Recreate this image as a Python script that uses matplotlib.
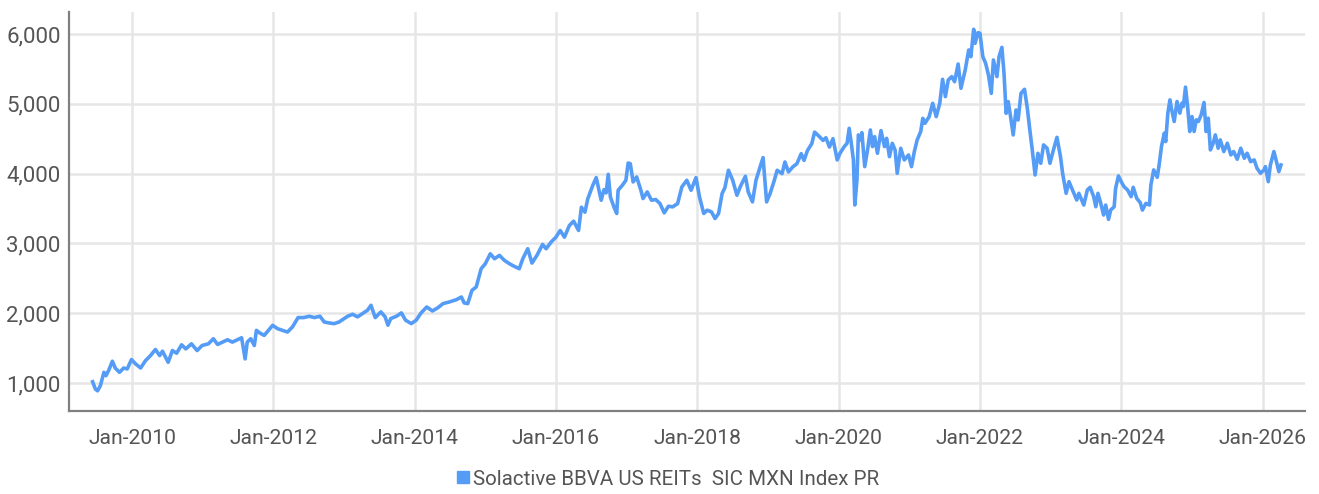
import pandas as pd
import matplotlib
matplotlib.use("Agg")
import matplotlib.pyplot as plt
from matplotlib.lines import Line2D
from matplotlib import font_manager

# index level, dates as decimal years
years = [
    2009.44, 2009.48, 2009.51, 2009.55, 2009.60, 2009.63, 2009.67, 2009.72, 2009.76, 2009.82,
    2009.88, 2009.93, 2009.99, 2010.05, 2010.12, 2010.19, 2010.26, 2010.33, 2010.39, 2010.43,
    2010.51, 2010.57, 2010.63, 2010.70, 2010.76, 2010.84, 2010.92, 2010.99, 2011.08, 2011.15,
    2011.21, 2011.28, 2011.35, 2011.42, 2011.49, 2011.55, 2011.60, 2011.63, 2011.68, 2011.73,
    2011.76, 2011.81, 2011.87, 2011.91, 2011.99, 2012.06, 2012.13, 2012.20, 2012.27, 2012.35,
    2012.43, 2012.51, 2012.58, 2012.66, 2012.72, 2012.79, 2012.86, 2012.93, 2012.98,
    2013.05, 2013.12, 2013.19, 2013.26, 2013.33, 2013.38, 2013.44, 2013.52, 2013.58, 2013.62,
    2013.66, 2013.74, 2013.81, 2013.87, 2013.95, 2014.02, 2014.09, 2014.17, 2014.25, 2014.33,
    2014.40, 2014.49, 2014.59, 2014.66, 2014.70, 2014.75, 2014.81, 2014.87, 2014.94, 2015.00,
    2015.07, 2015.13, 2015.20, 2015.27, 2015.34, 2015.41, 2015.48, 2015.53, 2015.60, 2015.66,
    2015.73, 2015.81, 2015.86, 2015.93, 2016.00, 2016.06, 2016.12, 2016.19, 2016.25, 2016.32,
    2016.36, 2016.41, 2016.45, 2016.52,
    2016.57, 2016.61, 2016.64, 2016.68, 2016.71, 2016.74, 2016.77, 2016.82, 2016.86, 2016.88,
    2016.94, 2016.99, 2017.02, 2017.05, 2017.09, 2017.14, 2017.20, 2017.23, 2017.29, 2017.35,
    2017.41, 2017.47, 2017.53, 2017.59, 2017.65, 2017.72, 2017.78, 2017.85, 2017.91, 2017.98,
    2018.03, 2018.09, 2018.14, 2018.20, 2018.25, 2018.30, 2018.35, 2018.39, 2018.44, 2018.50,
    2018.56, 2018.61, 2018.68, 2018.72, 2018.78, 2018.83, 2018.88, 2018.93, 2018.98, 2019.03,
    2019.09, 2019.13, 2019.20, 2019.24, 2019.29, 2019.35, 2019.41, 2019.47, 2019.51, 2019.56,
    2019.62, 2019.66, 2019.71, 2019.78, 2019.82, 2019.87, 2019.92,
    2019.98, 2020.02, 2020.08, 2020.12, 2020.15, 2020.18, 2020.21, 2020.23, 2020.26, 2020.28,
    2020.31, 2020.33, 2020.37, 2020.41, 2020.45, 2020.48, 2020.51, 2020.55, 2020.60, 2020.65,
    2020.68, 2020.72, 2020.76, 2020.80, 2020.83, 2020.88, 2020.93, 2020.99, 2021.03, 2021.07,
    2021.11, 2021.16, 2021.19, 2021.22, 2021.28, 2021.33, 2021.38, 2021.43, 2021.47, 2021.51,
    2021.55, 2021.60, 2021.64, 2021.69, 2021.73, 2021.79, 2021.84, 2021.87, 2021.91, 2021.93,
    2021.97, 2022.00, 2022.04, 2022.08, 2022.12, 2022.16, 2022.19, 2022.24, 2022.27, 2022.31,
    2022.34, 2022.37, 2022.40, 2022.44, 2022.47, 2022.51, 2022.54, 2022.58, 2022.63, 2022.67,
    2022.70, 2022.74, 2022.78, 2022.82, 2022.86, 2022.90, 2022.95, 2022.99, 2023.04, 2023.09,
    2023.14, 2023.17, 2023.22, 2023.26, 2023.31,
    2023.37, 2023.40, 2023.43, 2023.47, 2023.52, 2023.56, 2023.61, 2023.64, 2023.67, 2023.71,
    2023.75, 2023.78, 2023.82, 2023.85, 2023.90, 2023.92, 2023.96, 2024.00, 2024.04, 2024.09,
    2024.14, 2024.17, 2024.22, 2024.27, 2024.30, 2024.35, 2024.40, 2024.42, 2024.46, 2024.51,
    2024.54, 2024.57, 2024.61, 2024.63, 2024.66, 2024.69, 2024.71, 2024.75, 2024.79, 2024.83,
    2024.86, 2024.88, 2024.91, 2024.94, 2024.97, 2025.00, 2025.03, 2025.06, 2025.09, 2025.13,
    2025.17, 2025.20, 2025.23, 2025.26, 2025.30, 2025.33, 2025.37, 2025.40, 2025.45, 2025.50,
    2025.55, 2025.59, 2025.64, 2025.69, 2025.74, 2025.78, 2025.83, 2025.88, 2025.92, 2025.97,
    2026.02, 2026.04, 2026.08, 2026.11, 2026.16, 2026.19, 2026.23, 2026.26,
]
values = [
    1019, 913, 889, 962, 1154, 1106, 1188, 1313, 1216, 1154,
    1216, 1202, 1337, 1274, 1216, 1322, 1394, 1481, 1394, 1457,
    1298, 1466, 1428, 1548, 1490, 1562, 1466, 1538, 1562, 1635,
    1553, 1587, 1620, 1587, 1620, 1649, 1346, 1587, 1635, 1538,
    1755, 1716, 1683, 1731, 1827, 1779, 1755, 1731, 1803, 1938,
    1938, 1957, 1938, 1957, 1875, 1861, 1851, 1875, 1909,
    1957, 1986, 1948, 1995, 2043, 2114, 1938, 2019, 1948, 1829,
    1924, 1957, 2005, 1900, 1852, 1900, 2005, 2090, 2033, 2081,
    2138, 2162, 2195, 2233, 2148, 2138, 2329, 2376, 2638, 2710,
    2852, 2781, 2829, 2757, 2710, 2671, 2638, 2781, 2924, 2719,
    2829, 2986, 2924, 3019, 3090, 3186, 3090, 3257, 3319, 3186,
    3519, 3448, 3638, 3829,
    3943, 3762, 3619, 3771, 3724, 3990, 3667, 3524, 3429, 3762,
    3833, 3905, 4152, 4143, 3881, 3952, 3762, 3643, 3738, 3619,
    3629, 3571, 3438, 3533, 3524, 3571, 3810, 3905, 3762, 3943,
    3667, 3429, 3476, 3452, 3357, 3429, 3714, 3800, 4048, 3905,
    3690, 3819, 3962, 3738, 3595, 3905, 4071, 4229, 3595, 3714,
    3905, 4048, 4000, 4167, 4024, 4095, 4143, 4286, 4190, 4333,
    4429, 4595, 4548, 4476, 4514, 4381, 4500,
    4196, 4291, 4387, 4434, 4649, 4434, 4196, 3551, 3909, 4554,
    4482, 4587, 4100, 4339, 4625, 4387, 4530, 4291, 4616, 4387,
    4506, 4243, 4434, 4339, 4005, 4363, 4196, 4267, 4100, 4315,
    4482, 4601, 4792, 4721, 4816, 5007, 4816, 5007, 5351, 5103,
    5341, 5389, 5317, 5570, 5222, 5484, 5771, 5675, 6067, 5866,
    6019, 6010, 5675, 5580, 5413, 5150, 5628, 5389, 5675, 5809,
    5437, 4864, 5031, 4768, 4554, 4912, 4768, 5150, 5208, 4936,
    4673, 4339, 3981, 4291, 4148, 4411, 4363, 4148, 4339, 4520,
    4243, 4005, 3718, 3885, 3766,
    3622, 3718, 3646, 3550, 3766, 3804, 3670, 3526, 3718, 3574,
    3407, 3550, 3345, 3478, 3526, 3789, 3967, 3885, 3813, 3766,
    3670, 3804, 3646, 3584, 3478, 3574, 3550, 3837, 4053, 3947,
    4148, 4388, 4579, 4459, 4866, 5057, 4938, 4746, 5033, 4866,
    5010, 4962, 5239, 4962, 4603, 4818, 4603, 4770, 4746, 4842,
    5019, 4603, 4794, 4340, 4435, 4555, 4364, 4483, 4316, 4435,
    4268, 4316, 4206, 4364, 4220, 4292, 4172, 4196, 4077, 4005,
    4053, 4100, 3885, 4124, 4316, 4196, 4029, 4124,
]
series_name = "Solactive BBVA US REITs  SIC MXN Index PR"
y_ticks = [1000, 2000, 3000, 4000, 5000, 6000]
x_tick_years = [2010, 2012, 2014, 2016, 2018, 2020, 2022, 2024, 2026]


def to_date(y):
    yr = int(y)
    start = pd.Timestamp(year=yr, month=1, day=1)
    return start + pd.Timedelta(days=(y - yr) * 365.25)


# pick a narrow-ish font if we have one
available = {f.name for f in font_manager.fontManager.ttflist}
font = "DejaVu Sans"
for cand in ["Liberation Sans Narrow", "Roboto", "DejaVu Sans"]:
    if cand in available:
        font = cand
        break
plt.rcParams['font.family'] = [font, 'DejaVu Sans']

line_color = "#559cf7"
text_color = "#555555"

dates = [to_date(y) for y in years]

fig = plt.figure(figsize=(13.19, 4.94), dpi=100)
ax = fig.add_axes([69 / 1319, 83 / 494, (1305 - 69) / 1319, (411 - 12) / 494])

ax.plot(dates, values, color=line_color, linewidth=2.6, solid_joinstyle='round')

ax.set_xlim(to_date(2009.106), to_date(2026.6))
ax.set_ylim(600, 6315)

ax.set_yticks(y_ticks)
ax.set_yticklabels([f"{v:,}" for v in y_ticks])
ax.set_xticks([pd.Timestamp(year=y, month=1, day=1) for y in x_tick_years])
ax.set_xticklabels([f"Jan-{y}" for y in x_tick_years])

ax.tick_params(axis='both', length=0, colors=text_color)
ax.tick_params(axis='y', pad=6, labelsize=16)
ax.tick_params(axis='x', pad=13, labelsize=15.2)

ax.grid(True, color="#e6e6e6", linewidth=1.8)
ax.set_axisbelow(True)

for s in ['top', 'right']:
    ax.spines[s].set_visible(False)
for s in ['left', 'bottom']:
    ax.spines[s].set_color("#808080")
    ax.spines[s].set_linewidth(1.6)

handle = Line2D([], [], marker='s', linestyle='', color=line_color, markersize=8)
fig.legend(handles=[handle], labels=[series_name], loc='center',
           bbox_to_anchor=(667 / 1319, 15 / 494), frameon=False,
           fontsize=14.8, labelcolor=text_color, handletextpad=0.1,
           handlelength=0.8)

fig.savefig("out.png", dpi=100)
